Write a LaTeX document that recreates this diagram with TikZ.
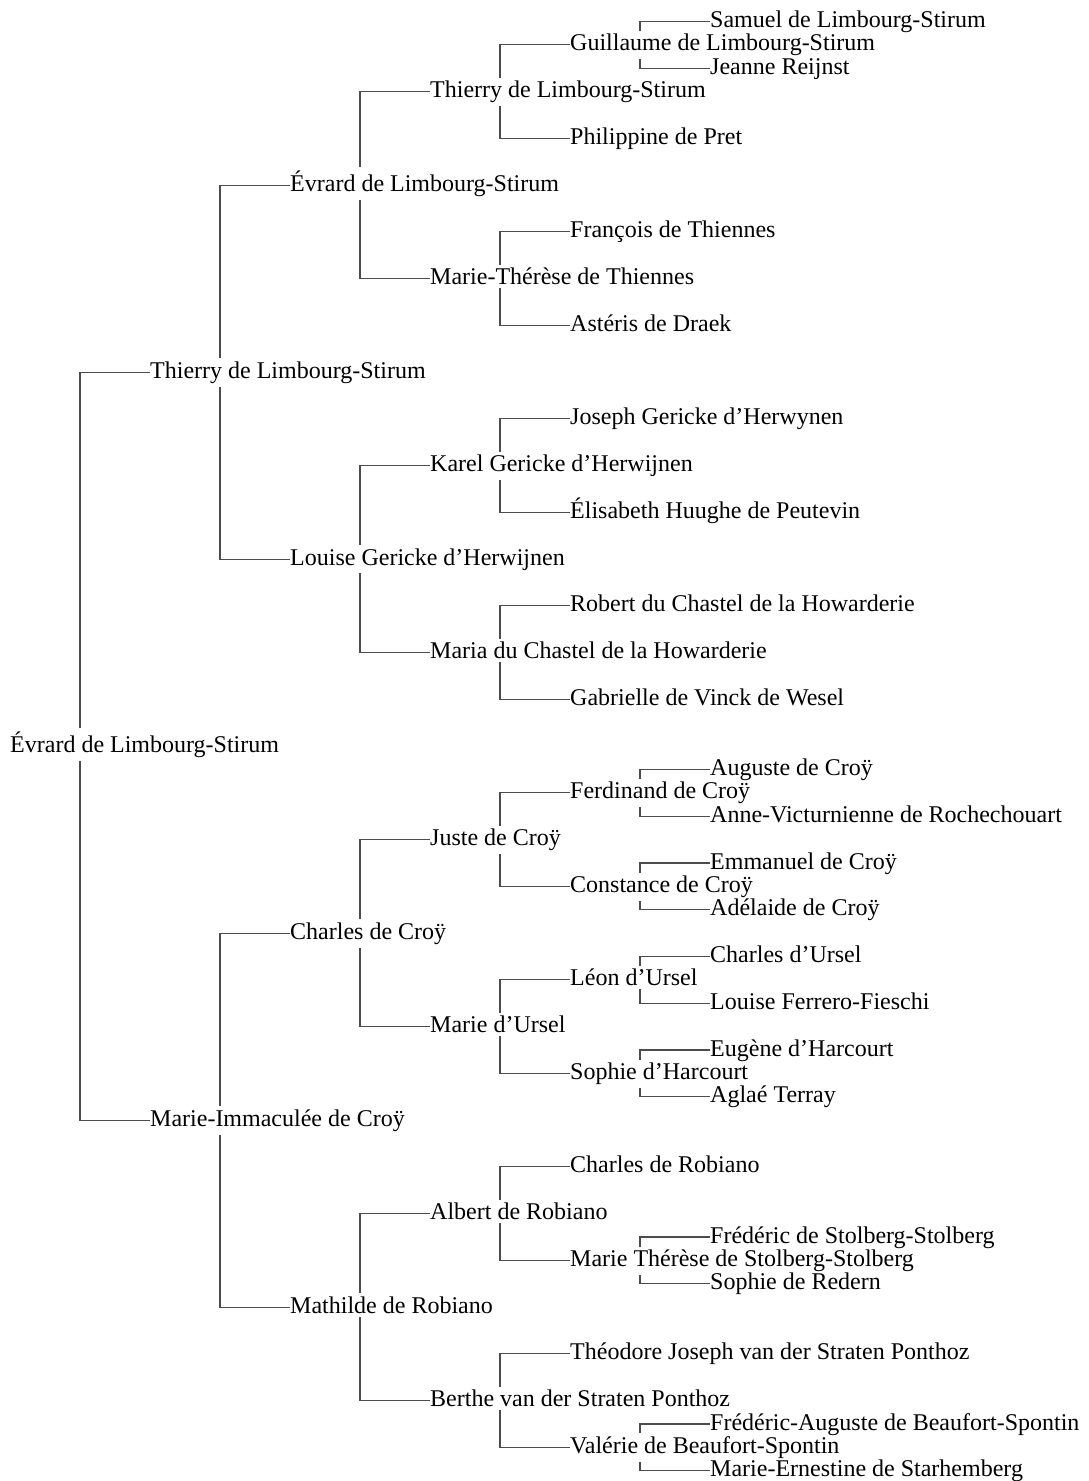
\documentclass[tikz,border=0pt]{standalone}
\usepackage{fontspec}
\setmainfont{Liberation Serif}
\usetikzlibrary{calc}
\begin{document}
\pgfdeclarelayer{bg}
\pgfdeclarelayer{mask}
\pgfsetlayers{bg,mask,main}
\begin{tikzpicture}[x=1pt,y=-23.375pt,
  person/.style={anchor=base west,yshift=-6pt,inner xsep=0pt,inner ysep=3pt,
    font=\fontsize{24}{28}\selectfont},
  link/.style={draw=black!70,line width=1.2pt}]
\path[use as bounding box] (0pt,21.5pt) rectangle (1089pt,-1459.5pt);
% generation 0
\node[person] (a) at (10,31) {Évrard de Limbourg-Stirum};
% generation 1
\node[person] (b1) at (150,15) {Thierry de Limbourg-Stirum};
\node[person] (b2) at (150,47) {Marie-Immaculée de Croÿ};
% generation 2
\node[person] (c1) at (290,7) {Évrard de Limbourg-Stirum};
\node[person] (c2) at (290,23) {Louise Gericke d’Herwijnen};
\node[person] (c3) at (290,39) {Charles de Croÿ};
\node[person] (c4) at (290,55) {Mathilde de Robiano};
% generation 3
\node[person] (d1) at (430,3) {Thierry de Limbourg-Stirum};
\node[person] (d2) at (430,11) {Marie-Thérèse de Thiennes};
\node[person] (d3) at (430,19) {Karel Gericke d’Herwijnen};
\node[person] (d4) at (430,27) {Maria du Chastel de la Howarderie};
\node[person] (d5) at (430,35) {Juste de Croÿ};
\node[person] (d6) at (430,43) {Marie d’Ursel};
\node[person] (d7) at (430,51) {Albert de Robiano};
\node[person] (d8) at (430,59) {Berthe van der Straten Ponthoz};
% generation 4
\node[person] (e1) at (570,1) {Guillaume de Limbourg-Stirum};
\node[person] (e2) at (570,5) {Philippine de Pret};
\node[person] (e3) at (570,9) {François de Thiennes};
\node[person] (e4) at (570,13) {Astéris de Draek};
\node[person] (e5) at (570,17) {Joseph Gericke d’Herwynen};
\node[person] (e6) at (570,21) {Élisabeth Huughe de Peutevin};
\node[person] (e7) at (570,25) {Robert du Chastel de la Howarderie};
\node[person] (e8) at (570,29) {Gabrielle de Vinck de Wesel};
\node[person] (e9) at (570,33) {Ferdinand de Croÿ};
\node[person] (e10) at (570,37) {Constance de Croÿ};
\node[person] (e11) at (570,41) {Léon d’Ursel};
\node[person] (e12) at (570,45) {Sophie d’Harcourt};
\node[person] (e13) at (570,49) {Charles de Robiano};
\node[person] (e14) at (570,53) {Marie Thérèse de Stolberg-Stolberg};
\node[person] (e15) at (570,57) {Théodore Joseph van der Straten Ponthoz};
\node[person] (e16) at (570,61) {Valérie de Beaufort-Spontin};
% generation 5
\node[person] (f1) at (710,0) {Samuel de Limbourg-Stirum};
\node[person] (f2) at (710,2) {Jeanne Reijnst};
\node[person] (f3) at (710,32) {Auguste de Croÿ};
\node[person] (f4) at (710,34) {Anne-Victurnienne de Rochechouart};
\node[person] (f5) at (710,36) {Emmanuel de Croÿ};
\node[person] (f6) at (710,38) {Adélaide de Croÿ};
\node[person] (f7) at (710,40) {Charles d’Ursel};
\node[person] (f8) at (710,42) {Louise Ferrero-Fieschi};
\node[person] (f9) at (710,44) {Eugène d’Harcourt};
\node[person] (f10) at (710,46) {Aglaé Terray};
\node[person] (f11) at (710,52) {Frédéric de Stolberg-Stolberg};
\node[person] (f12) at (710,54) {Sophie de Redern};
\node[person] (f13) at (710,60) {Frédéric-Auguste de Beaufort-Spontin};
\node[person] (f14) at (710,62) {Marie-Ernestine de Starhemberg};
% white masks behind the names (cut the connectors)
\begin{pgfonlayer}{mask}
\foreach \n in {a,b1,b2,c1,c2,c3,c4,d1,d2,d3,d4,d5,d6,d7,d8,
  e1,e2,e3,e4,e5,e6,e7,e8,e9,e10,e11,e12,e13,e14,e15,e16,
  f1,f2,f3,f4,f5,f6,f7,f8,f9,f10,f11,f12,f13,f14}
  \fill[white] (\n.south west) rectangle (\n.north east);
\end{pgfonlayer}
% connectors
\begin{pgfonlayer}{bg}
\foreach \fa/\mo in {b1/b2,c1/c2,c3/c4,d1/d2,d3/d4,d5/d6,d7/d8,
  e1/e2,e3/e4,e5/e6,e7/e8,e9/e10,e11/e12,e13/e14,e15/e16,
  f1/f2,f3/f4,f5/f6,f7/f8,f9/f10,f11/f12,f13/f14}
  \draw[link] ($(\fa.base west)+(0pt,6pt)$) -- ++(-70,0)
    |- ($(\mo.base west)+(0pt,6pt)$);
\end{pgfonlayer}
\end{tikzpicture}
\end{document}
